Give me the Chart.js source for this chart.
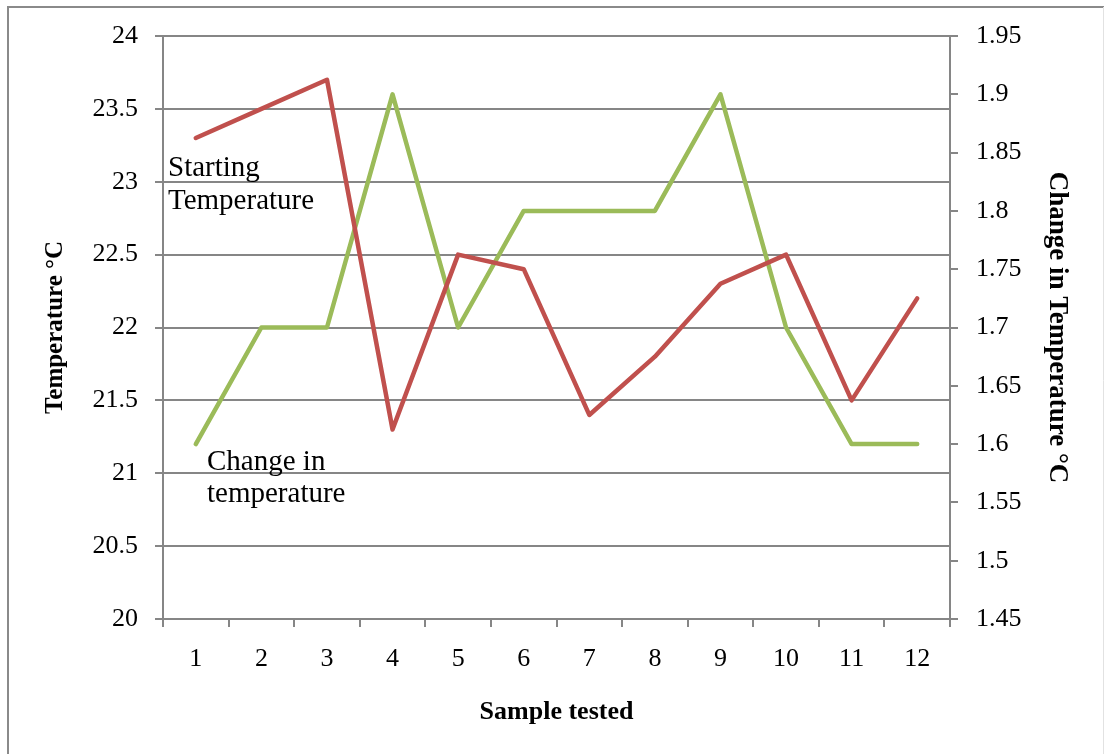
<!DOCTYPE html>
<html>
<head>
<meta charset="utf-8">
<script src="https://cdn.jsdelivr.net/npm/chart.js@4/dist/chart.umd.min.js"></script>
<style>
  html, body { margin: 0; padding: 0; background: #fff; }
  #wrap { width: 1104px; height: 754px; }
</style>
</head>
<body>
<div id="wrap"><canvas id="c" width="1104" height="754"></canvas></div>
<script>
// Samples 1..12
const samples = ['1', '2', '3', '4', '5', '6', '7', '8', '9', '10', '11', '12'];
// Starting temperature (°C), left axis
const startingTemp = [23.3, 23.5, 23.7, 21.3, 22.5, 22.4, 21.4, 21.8, 22.3, 22.5, 21.5, 22.2];
// Change in temperature (°C), right axis
const changeTemp = [1.6, 1.7, 1.7, 1.9, 1.7, 1.8, 1.8, 1.8, 1.9, 1.7, 1.6, 1.6];

const FONT = '"Liberation Serif", "Times New Roman", serif';
const GRID = '#868686';
const fmt = v => String(+Number(v).toFixed(2));

// Frame around the whole figure
const framePlugin = {
  id: 'frame',
  beforeDraw(chart) {
    const ctx = chart.ctx;
    ctx.save();
    ctx.fillStyle = '#fff';
    ctx.fillRect(0, 0, chart.width, chart.height);
    ctx.strokeStyle = '#8a8a8a';
    ctx.lineWidth = 2;
    ctx.beginPath();
    ctx.moveTo(8, chart.height);
    ctx.lineTo(8, 7);
    ctx.lineTo(chart.width, 7);
    ctx.stroke();
    ctx.strokeStyle = '#e2e2e2';
    ctx.lineWidth = 1;
    ctx.beginPath();
    ctx.moveTo(1103.5, 7);
    ctx.lineTo(1103.5, chart.height);
    ctx.stroke();
    ctx.restore();
  }
};

// Series captions placed inside the plot
const captionPlugin = {
  id: 'captions',
  afterDatasetsDraw(chart) {
    const ctx = chart.ctx;
    ctx.save();
    ctx.fillStyle = '#000';
    ctx.font = '29px ' + FONT;
    ctx.textAlign = 'left';
    ctx.textBaseline = 'middle';
    ctx.fillText('Starting', 168, 168);
    ctx.fillText('Temperature', 168, 201);
    ctx.fillText('Change in', 207, 462);
    ctx.fillText('temperature', 207, 494);
    ctx.restore();
  }
};

new Chart(document.getElementById('c'), {
  type: 'line',
  data: {
    labels: samples,
    datasets: [
      {
        label: 'Starting Temperature',
        data: startingTemp,
        yAxisID: 'y',
        borderColor: '#C0504D',
        borderWidth: 4.5,
        pointRadius: 0,
        tension: 0,
        borderJoinStyle: 'round',
        borderCapStyle: 'round'
      },
      {
        label: 'Change in temperature',
        data: changeTemp,
        yAxisID: 'y1',
        borderColor: '#9BBB59',
        borderWidth: 4.5,
        pointRadius: 0,
        tension: 0,
        borderJoinStyle: 'round',
        borderCapStyle: 'round'
      }
    ]
  },
  options: {
    responsive: false,
    animation: false,
    devicePixelRatio: 1,
    layout: { padding: { top: 36, left: 0, right: 0, bottom: 0 } },
    plugins: {
      legend: { display: false },
      tooltip: { enabled: false }
    },
    scales: {
      x: {
        offset: true,
        grid: {
          offset: true,
          drawOnChartArea: false,
          drawTicks: true,
          tickLength: 8,
          color: GRID,
          lineWidth: 2
        },
        border: { color: GRID, width: 2 },
        ticks: {
          color: '#000',
          font: { family: FONT, size: 26 },
          padding: 17,
          maxRotation: 0
        },
        title: {
          display: true,
          text: 'Sample tested',
          color: '#000',
          font: { family: FONT, size: 26, weight: 'bold' },
          padding: { top: 0, bottom: 26 }
        },
        afterFit(scale) { scale.height = 135; }
      },
      y: {
        position: 'left',
        min: 20,
        max: 24,
        ticks: {
          stepSize: 0.5,
          color: '#000',
          font: { family: FONT, size: 26 },
          padding: 17,
          callback: fmt
        },
        grid: {
          drawOnChartArea: true,
          drawTicks: true,
          tickLength: 8,
          color: GRID,
          lineWidth: 2
        },
        border: { color: GRID, width: 2 },
        title: {
          display: true,
          text: 'Temperature °C',
          color: '#000',
          font: { family: FONT, size: 25, weight: 'bold' },
          padding: { top: 41, bottom: 0 }
        },
        afterFit(scale) { scale.width = 163; }
      },
      y1: {
        position: 'right',
        min: 1.45,
        max: 1.95,
        ticks: {
          stepSize: 0.05,
          color: '#000',
          font: { family: FONT, size: 26 },
          padding: 18,
          callback: fmt
        },
        grid: {
          drawOnChartArea: false,
          drawTicks: true,
          tickLength: 8,
          color: GRID,
          lineWidth: 2
        },
        border: { color: GRID, width: 2 },
        title: {
          display: true,
          text: 'Change in Temperature °C',
          color: '#000',
          font: { family: FONT, size: 27, weight: 'bold' },
          padding: { top: 31, bottom: 0 }
        },
        afterFit(scale) { scale.width = 154; }
      }
    }
  },
  plugins: [framePlugin, captionPlugin]
});
</script>
</body>
</html>
